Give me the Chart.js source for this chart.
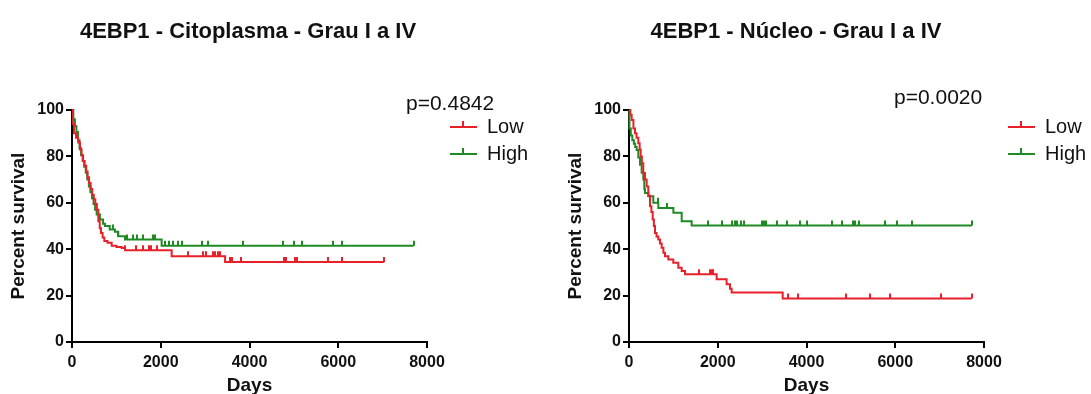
<!DOCTYPE html>
<html>
<head>
<meta charset="utf-8">
<script src="https://cdn.jsdelivr.net/npm/chart.js@4.4.1/dist/chart.umd.min.js"></script>
<style>
  body { margin: 0; background: #fff; font-family: "Liberation Sans", Arial, sans-serif; color: #111; }
  #wrap { position: relative; width: 1091px; height: 394px; overflow: hidden; }
  canvas { position: absolute; top: 0; }
  .title { position: absolute; top: 20px; font-weight: bold; font-size: 22px; line-height: 1; white-space: nowrap; transform: translateX(-50%); }
  .pval { position: absolute; font-size: 21px; line-height: 1; white-space: nowrap; }
  .lab { position: absolute; font-size: 20px; line-height: 1; white-space: nowrap; }
  .sw { position: absolute; width: 27px; height: 2px; }
  .sw::after { content: ""; position: absolute; left: 12px; top: -5px; width: 2px; height: 5px; background: inherit; }
</style>
</head>
<body>
<div id="wrap">
  <canvas id="cyto" width="545" height="394" style="left:0"></canvas>
  <canvas id="nuc" width="534" height="394" style="left:557px"></canvas>

  <div class="title" style="left:248px">4EBP1 - Citoplasma - Grau I a IV</div>
  <div class="title" style="left:796px">4EBP1 - Núcleo - Grau I a IV</div>

  <div class="pval" style="left:406px;top:92px">p=0.4842</div>
  <div class="sw" style="left:450px;top:126px;background:#e8202a"></div>
  <div class="lab" style="left:487px;top:116px">Low</div>
  <div class="sw" style="left:450px;top:153px;background:#1f8a24"></div>
  <div class="lab" style="left:487px;top:143px">High</div>

  <div class="pval" style="left:894px;top:86px">p=0.0020</div>
  <div class="sw" style="left:1008px;top:126px;background:#e8202a"></div>
  <div class="lab" style="left:1045px;top:116px">Low</div>
  <div class="sw" style="left:1008px;top:153px;background:#1f8a24"></div>
  <div class="lab" style="left:1045px;top:143px">High</div>
</div>

<script>
const RED = "#e8202a";
const GREEN = "#1f8a24";

// Citoplasma - Low (step days / survival after the step, censored days)
const cytoLowDays = [0, 20, 45, 90, 140, 180, 215, 250, 285, 320, 350, 385, 420, 455, 490, 525, 560, 593, 625, 653, 690, 728, 800, 894, 1000, 1119, 1194, 2246, 3450, 7037];
const cytoLowSurv = [100, 94, 90, 88, 86, 83, 80.5, 78, 76, 73.5, 71, 68.5, 66, 63.5, 61.5, 59.5, 57, 52, 49, 47, 45, 43.5, 42.8, 41.5, 41, 40.5, 39.5, 37, 34.5, 34.5];
const cytoLowCensor = [1194, 1442, 1607, 1742, 1773, 1908, 2621, 2959, 3020, 3170, 3222, 3297, 3335, 3560, 3612, 3801, 4784, 4822, 5025, 5063, 5775, 6077, 7037];

// Citoplasma - High
const cytoHighDays = [0, 30, 65, 100, 135, 170, 205, 240, 275, 310, 345, 380, 415, 450, 485, 520, 556, 630, 700, 743, 850, 968, 1043, 1194, 2020, 7700];
const cytoHighSurv = [100, 96, 93, 90.5, 87, 83.5, 80.5, 78, 75.5, 73, 70, 67, 64.5, 62, 59.5, 57, 55, 52.8, 51, 50, 48.5, 47.5, 45.6, 44.2, 41.5, 41.5];
const cytoHighCensor = [930, 1043, 1250, 1381, 1471, 1593, 1832, 1880, 2095, 2193, 2283, 2395, 2471, 2922, 3072, 3860, 4752, 5000, 5180, 5878, 6081, 7700];

// Núcleo - Low
const nucLowDays = [0, 30, 60, 100, 135, 170, 210, 240, 263, 290, 322, 360, 398, 435, 473, 505, 534, 560, 586, 620, 660, 700, 736, 775, 811, 886, 998, 1111, 1187, 1262, 1975, 2200, 2275, 2313, 3463, 7720];
const nucLowSurv = [100, 98, 95.7, 92, 90, 88, 85.7, 83, 80, 77, 72.8, 70, 67, 63, 58.5, 56, 52.8, 50, 47, 45.5, 44.2, 42.5, 40.6, 38.5, 37, 35.6, 34.2, 32, 30.6, 29.2, 27, 24.9, 23, 21.3, 18.7, 18.7];
const nucLowCensor = [1577, 1825, 1863, 1900, 3590, 3815, 4880, 5431, 5875, 7032, 7720];

// Núcleo - High
const nucHighDays = [0, 10, 40, 75, 110, 140, 173, 210, 248, 285, 322, 345, 360, 435, 548, 660, 1000, 1187, 1412, 7726];
const nucHighSurv = [100, 92, 89, 87, 85.5, 84, 82.8, 79.5, 76.4, 73, 70, 66, 64.2, 62.8, 60, 57.8, 55.7, 52, 50.2, 50.2];
const nucHighCensor = [653, 856, 1787, 2088, 2313, 2388, 2440, 2516, 2591, 2990, 3042, 3087, 3342, 3567, 3853, 4010, 4570, 4795, 5040, 5100, 5190, 5770, 6050, 6374, 7726];

const xMax = 8000, xStep = 2000;
const yMax = 100, yStep = 20;

const FONT = '"Liberation Sans", Arial, sans-serif';

function pts(days, surv) {
  return days.map((d, i) => ({ x: d, y: surv[i] }));
}

// small vertical marks for censored cases, sitting on top of the curve
const censorTicks = {
  id: "censorTicks",
  afterDatasetsDraw(chart) {
    const { ctx, scales: { x, y } } = chart;
    chart.data.datasets.forEach(ds => {
      ctx.save();
      ctx.strokeStyle = ds.borderColor;
      ctx.lineWidth = 2;
      ds.censor.forEach(t => {
        let s = ds.data[0].y;
        ds.data.forEach(p => { if (p.x <= t) s = p.y; });
        const px = Math.round(x.getPixelForValue(t));
        const py = y.getPixelForValue(s);
        ctx.beginPath();
        ctx.moveTo(px, py);
        ctx.lineTo(px, py - 5);
        ctx.stroke();
      });
      ctx.restore();
    });
  }
};

function axisTicks() {
  return { drawOnChartArea: false, drawTicks: true, tickLength: 6, color: "#000", lineWidth: 2 };
}

function makeChart(id, low, high, padRight) {
  return new Chart(document.getElementById(id), {
    type: "line",
    data: {
      datasets: [
        { label: "Low", data: low.data, censor: low.censor, borderColor: RED },
        { label: "High", data: high.data, censor: high.censor, borderColor: GREEN }
      ].map(ds => ({ ...ds, stepped: true, borderWidth: 2, pointRadius: 0, fill: false, clip: false }))
    },
    options: {
      responsive: false,
      animation: false,
      devicePixelRatio: 1,
      layout: { padding: { left: 0, top: 110, right: padRight, bottom: 0 } },
      plugins: { legend: { display: false }, tooltip: { enabled: false } },
      scales: {
        x: {
          type: "linear", min: 0, max: xMax,
          ticks: { stepSize: xStep, color: "#111", font: { family: FONT, size: 16, weight: "bold" }, padding: 5, maxRotation: 0,
                   callback: v => String(v) },
          grid: axisTicks(),
          border: { color: "#000", width: 2 },
          title: { display: true, text: "Days", color: "#111", font: { family: FONT, size: 19, weight: "bold" }, padding: { top: 0, bottom: -3 } },
          afterFit(s) { s.height = 52; }
        },
        y: {
          min: 0, max: yMax,
          ticks: { stepSize: yStep, color: "#111", font: { family: FONT, size: 16, weight: "bold" }, padding: 2 },
          grid: axisTicks(),
          border: { color: "#000", width: 2 },
          title: { display: true, text: "Percent survival", color: "#111", font: { family: FONT, size: 19, weight: "bold" }, padding: { top: 7, bottom: 4 } },
          afterFit(s) { s.width = 72; }
        }
      }
    },
    plugins: [censorTicks]
  });
}

makeChart("cyto",
  { data: pts(cytoLowDays, cytoLowSurv), censor: cytoLowCensor },
  { data: pts(cytoHighDays, cytoHighSurv), censor: cytoHighCensor },
  118);

makeChart("nuc",
  { data: pts(nucLowDays, nucLowSurv), censor: nucLowCensor },
  { data: pts(nucHighDays, nucHighSurv), censor: nucHighCensor },
  107);
</script>
</body>
</html>
